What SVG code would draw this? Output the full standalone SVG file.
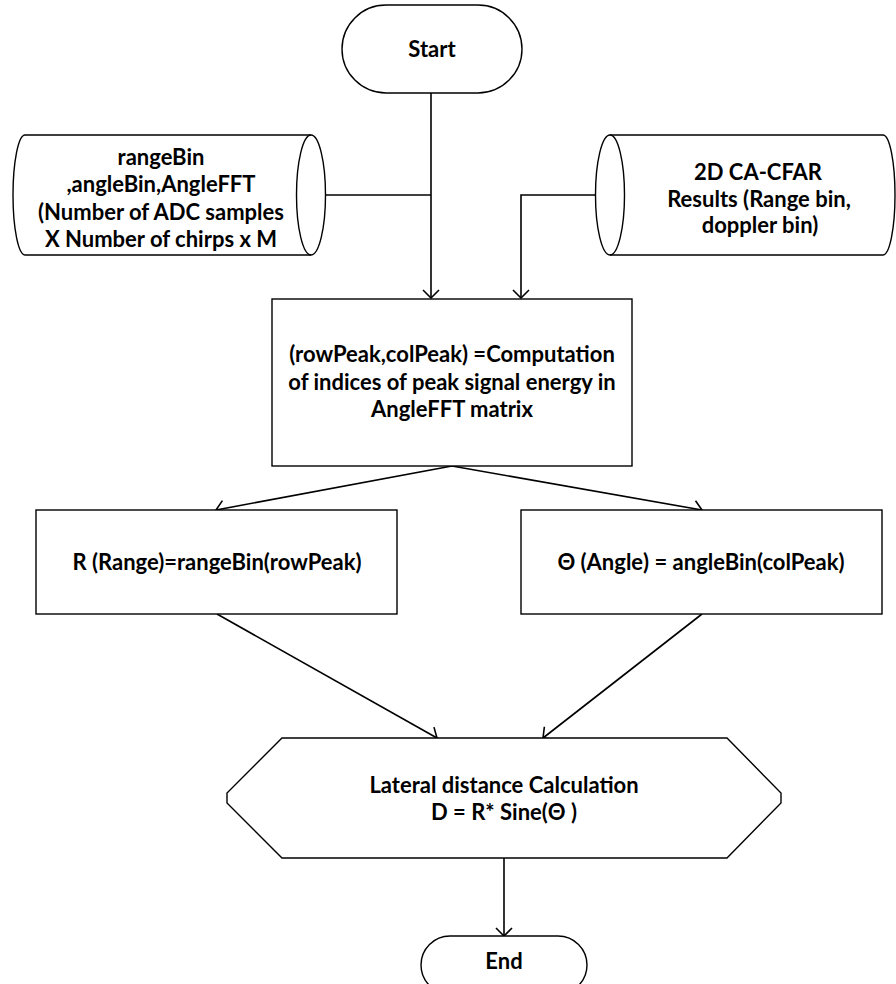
<svg xmlns="http://www.w3.org/2000/svg" width="896" height="984" viewBox="0 0 896 984">
  <style>
    .shape { fill: #ffffff; stroke: #000000; stroke-width: 1.4; }
    .edge { fill: none; stroke: #000000; stroke-width: 1.6; }
    .lbl { font-family: Lato, "Liberation Sans", sans-serif; font-weight: bold; font-size: 22px; fill: #000000; text-anchor: middle; }
  </style>
  <defs>
    <marker id="arrow" markerUnits="userSpaceOnUse" viewBox="0 0 10 18" markerWidth="10" markerHeight="18" refX="9" refY="9" orient="auto">
      <path d="M1,1 L9,9 L1,17" fill="none" stroke="#000000" stroke-width="1.6"/>
    </marker>
  </defs>
  <rect width="896" height="984" fill="#ffffff"/>

  <!-- connectors -->
  <g id="connectors">
    <line class="edge" x1="431" y1="93" x2="431" y2="298" marker-end="url(#arrow)"/>
    <line class="edge" x1="311" y1="195" x2="431" y2="195"/>
    <polyline class="edge" points="610,195 521,195 521,298" marker-end="url(#arrow)"/>
    <line class="edge" x1="452" y1="466" x2="216" y2="510" marker-end="url(#arrow)"/>
    <line class="edge" x1="452" y1="466" x2="702" y2="510" marker-end="url(#arrow)"/>
    <line class="edge" x1="217" y1="614" x2="437" y2="738" marker-end="url(#arrow)"/>
    <line class="edge" x1="702" y1="614" x2="543" y2="738" marker-end="url(#arrow)"/>
    <line class="edge" x1="504" y1="858" x2="504" y2="936" marker-end="url(#arrow)"/>
  </g>

  <!-- start terminator -->
  <g id="start">
    <rect class="shape" x="342" y="5" width="180" height="88" rx="44" ry="44"/>
    <text class="lbl" x="432" y="57">Start</text>
  </g>

  <!-- input data (stored data, left) -->
  <g id="input-data">
    <path class="shape" d="M25,135 L311,135 A14.5,60 0 0 1 311,255 L25,255 A12,60 0 0 1 25,135 Z"/>
    <path class="edge" style="stroke-width:1.4" d="M311,135 A14.5,60 0 0 0 311,255"/>
    <text class="lbl" x="161" y="165">rangeBin</text>
    <text class="lbl" x="161" y="192">,angleBin,AngleFFT</text>
    <text class="lbl" x="161" y="220">(Number of ADC samples</text>
    <text class="lbl" x="161" y="247">X Number of chirps x M</text>
  </g>

  <!-- CFAR results (stored data, right) -->
  <g id="cfar-results">
    <path class="shape" d="M610,135 L883,135 A12,60 0 0 1 883,255 L610,255 A14.5,60 0 0 1 610,135 Z"/>
    <path class="edge" style="stroke-width:1.4" d="M610,135 A14.5,60 0 0 1 610,255"/>
    <text class="lbl" x="758" y="180">2D CA-CFAR</text>
    <text class="lbl" x="759" y="207">Results (Range bin,</text>
    <text class="lbl" x="760" y="233">doppler bin)</text>
  </g>

  <!-- peak search -->
  <g id="peak-search">
    <rect class="shape" x="272" y="299" width="360" height="167"/>
    <text class="lbl" x="452" y="362">(rowPeak,colPeak) =Computation</text>
    <text class="lbl" x="452" y="390">of indices of peak signal energy in</text>
    <text class="lbl" x="452" y="417">AngleFFT matrix</text>
  </g>

  <!-- range -->
  <g id="range">
    <rect class="shape" x="36" y="510" width="361" height="104"/>
    <text class="lbl" x="217" y="570">R (Range)=rangeBin(rowPeak)</text>
  </g>

  <!-- angle -->
  <g id="angle">
    <rect class="shape" x="521" y="510" width="361" height="104"/>
    <text class="lbl" x="701" y="570">Θ (Angle) = angleBin(colPeak)</text>
  </g>

  <!-- lateral distance -->
  <g id="lateral-distance">
    <polygon class="shape" points="282,738 727,738 781,793 781,803 727,858 282,858 227,803 227,793"/>
    <text class="lbl" x="504" y="793">Lateral distance Calculation</text>
    <text class="lbl" x="504" y="820">D = R* Sine(Θ )</text>
  </g>

  <!-- end terminator -->
  <g id="end">
    <rect class="shape" x="421" y="936" width="166" height="58" rx="29" ry="29"/>
    <text class="lbl" x="504" y="969">End</text>
  </g>
</svg>
